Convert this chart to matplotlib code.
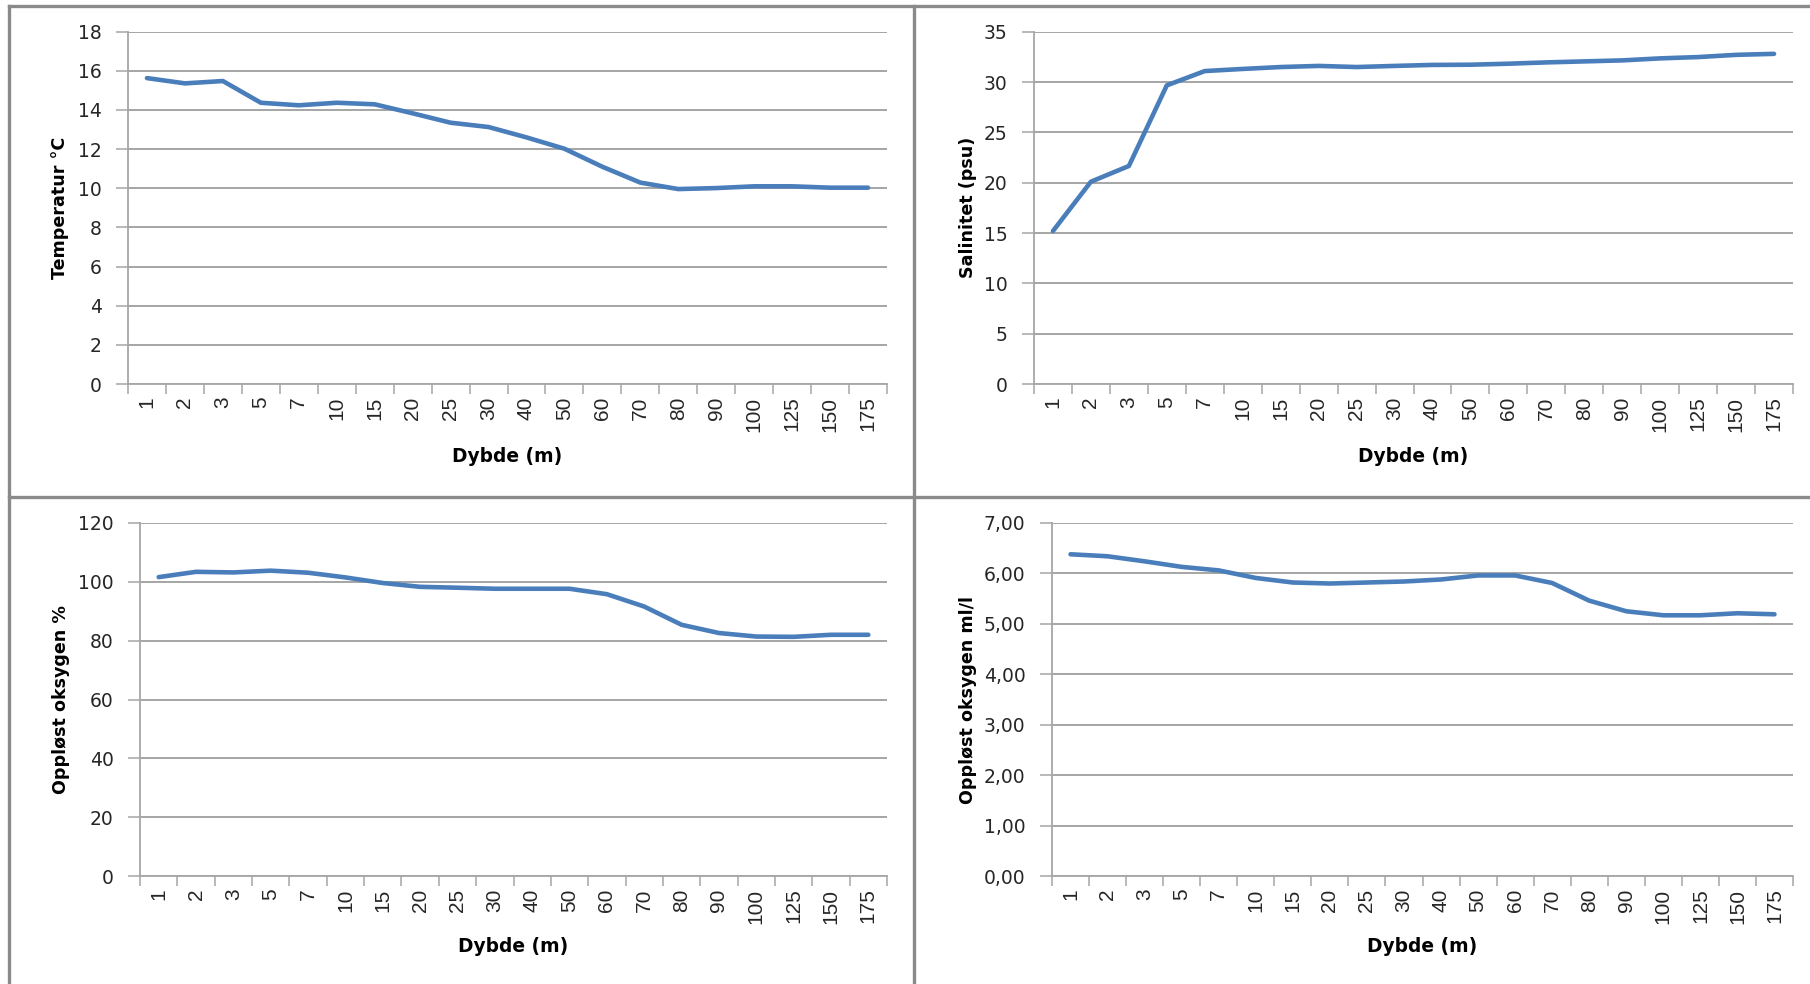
import matplotlib
matplotlib.use("Agg")
import matplotlib.pyplot as plt
import numpy as np
from matplotlib.lines import Line2D
from matplotlib.ticker import FixedLocator, FuncFormatter

# dybder (kategorier)
depths = ["1", "2", "3", "5", "7", "10", "15", "20", "25", "30",
          "40", "50", "60", "70", "80", "90", "100", "125", "150", "175"]

temperature = [15.63, 15.36, 15.48, 14.37, 14.24, 14.37, 14.29, 13.83, 13.35, 13.13,
               12.60, 12.02, 11.10, 10.29, 9.96, 10.01, 10.10, 10.10, 10.03, 10.03]
salinity = [15.2, 20.1, 21.66, 29.67, 31.09, 31.3, 31.49, 31.6, 31.49, 31.6,
            31.7, 31.72, 31.82, 31.95, 32.05, 32.15, 32.35, 32.48, 32.7, 32.8]
oxygen_pct = [101.6, 103.4, 103.2, 103.8, 103.1, 101.5, 99.6, 98.3, 98.0, 97.65,
              97.65, 97.65, 95.8, 91.6, 85.4, 82.6, 81.4, 81.3, 82.0, 82.0]
oxygen_ml = [6.38, 6.34, 6.24, 6.13, 6.06, 5.91, 5.82, 5.80, 5.82, 5.84,
             5.88, 5.96, 5.96, 5.81, 5.46, 5.25, 5.17, 5.17, 5.21, 5.19]

W, H = 1810, 984
LINE = "#4A7EBB"
GRID = "#969696"
AXIS = "#A6A6A6"
TXT = "#262626"


def px_axes(fig, left, top, right, bottom):
    return fig.add_axes([left / W, 1 - bottom / H, (right - left) / W, (bottom - top) / H])


def panel(ax, values, ylim, ystep, ylabel, ylab_x, xlab_y, fmt=None):
    x = np.arange(len(depths))
    ax.plot(x, values, color=LINE, linewidth=3.3, solid_capstyle="round",
            solid_joinstyle="round", zorder=3)
    ax.set_xlim(-0.5, len(depths) - 0.5)
    ax.set_ylim(*ylim)

    yt = np.arange(ylim[0], ylim[1] + ystep / 2, ystep)
    ax.set_yticks(yt)
    if fmt is not None:
        ax.yaxis.set_major_formatter(FuncFormatter(fmt))
    ax.grid(axis="y", color=GRID, linewidth=1.2, zorder=0)

    # tick marks at category boundaries, labels at centers
    ax.xaxis.set_major_locator(FixedLocator(np.arange(len(depths) + 1) - 0.5))
    ax.xaxis.set_minor_locator(FixedLocator(x))
    ax.set_xticklabels([], minor=False)
    ax.set_xticklabels(depths, minor=True, rotation=90, fontsize=15,
                       family="Liberation Sans", color=TXT)
    ax.tick_params(axis="x", which="major", length=7, width=1.1, color=AXIS, direction="out")
    ax.tick_params(axis="x", which="minor", length=0, pad=9)
    ax.tick_params(axis="y", length=9, width=1.1, color=AXIS, pad=10,
                   labelsize=13.5, labelcolor=TXT)

    for s in ("top", "right"):
        ax.spines[s].set_visible(False)
    for s in ("left", "bottom"):
        ax.spines[s].set_color(AXIS)
        ax.spines[s].set_linewidth(1.3)

    ax.set_ylabel(ylabel, fontsize=12.6, fontweight="bold", color="black",
                  family="DejaVu Sans")
    ax.yaxis.set_label_coords(ylab_x, 0.5)
    ax.yaxis.label.set_horizontalalignment("center")
    ax.yaxis.label.set_verticalalignment("center")
    ax.set_xlabel("Dybde (m)", fontsize=13.4, fontweight="bold", color="black",
                  family="DejaVu Sans")
    ax.xaxis.set_label_coords(0.5, xlab_y)
    ax.xaxis.label.set_verticalalignment("center")


fig = plt.figure(figsize=(W / 100, H / 100), dpi=100)
fig.patch.set_facecolor("white")

ax1 = px_axes(fig, 128, 31.7, 887, 384)
panel(ax1, temperature, (0, 18), 2, "Temperatur °C", -0.089, -0.205)

ax2 = px_axes(fig, 1034, 31.7, 1793, 384)
panel(ax2, salinity, (0, 35), 5, "Salinitet (psu)", -0.0875, -0.205)

ax3 = px_axes(fig, 140, 523, 887, 876)
panel(ax3, oxygen_pct, (0, 120), 20, "Oppløst oksygen %", -0.106, -0.201)

ax4 = px_axes(fig, 1052, 523, 1793, 876)
panel(ax4, oxygen_ml, (0, 7), 1, "Oppløst oksygen ml/l", -0.114, -0.201,
      fmt=lambda v, p: f"{v:.2f}".replace(".", ","))

# panel frames
frame = dict(color="#8A8A8A", linewidth=2.4, transform=fig.transFigure)
fig.add_artist(Line2D([9 / W, 9 / W], [0, 1 - 6 / H], **frame))
fig.add_artist(Line2D([9 / W, 1], [1 - 6 / H, 1 - 6 / H], **frame))
fig.add_artist(Line2D([914 / W, 914 / W], [0, 1 - 6 / H], **frame))
fig.add_artist(Line2D([9 / W, 1], [1 - 497 / H, 1 - 497 / H], **frame))

fig.savefig("out.png", dpi=100, facecolor="white")
